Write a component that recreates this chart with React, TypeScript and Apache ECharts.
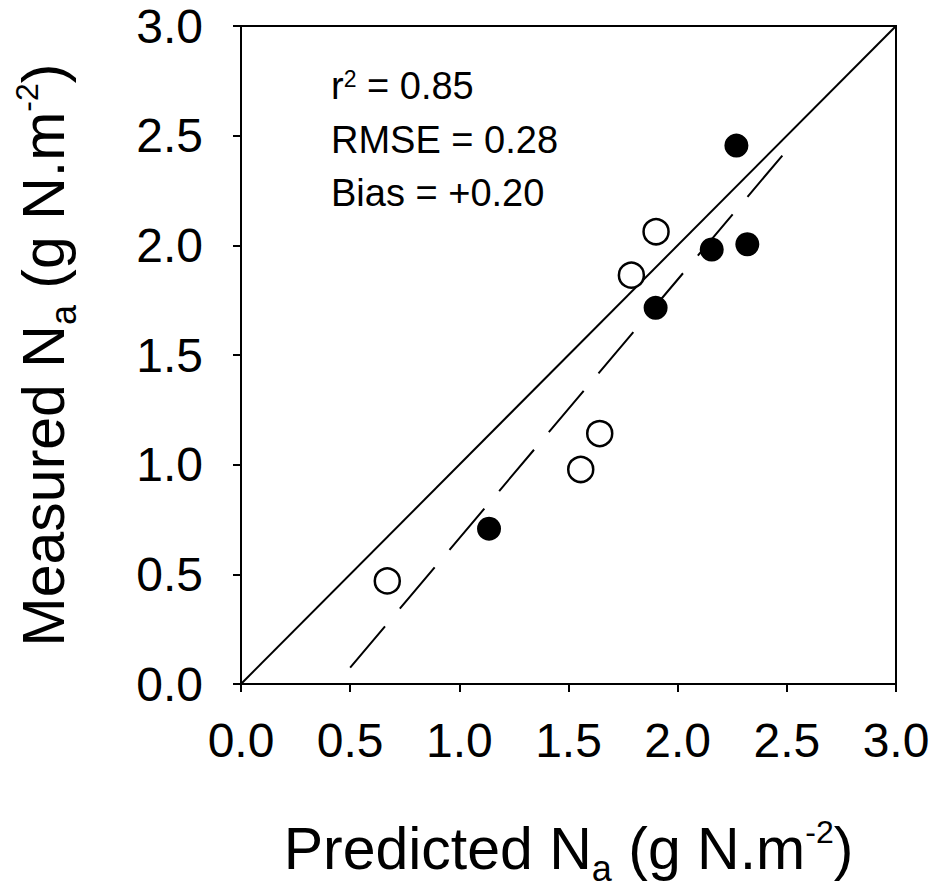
import React, { useEffect, useRef } from 'react';
import * as echarts from 'echarts';

// Reference data
const openPoints: [number, number][] = [
  [0.67, 0.47],
  [1.556, 0.978],
  [1.643, 1.142],
  [1.788, 1.864],
  [1.901, 2.062],
];
const filledPoints: [number, number][] = [
  [1.136, 0.708],
  [1.899, 1.715],
  [2.156, 1.981],
  [2.319, 2.005],
  [2.269, 2.455],
];
const oneToOneLine: [number, number][] = [
  [0, 0],
  [3, 3],
];
const regressionLine: [number, number][] = [
  [0.5, 0.075],
  [2.48, 2.41],
];
const axisMin = 0;
const axisMax = 3;
const axisInterval = 0.5;
const statR2 = '0.85';
const statRMSE = '0.28';
const statBias = '+0.20';

const FONT = '"Liberation Sans", Arial, Helvetica, sans-serif';

const titleRich = {
  m: { fontSize: 59, fontFamily: FONT, color: '#000', lineHeight: 74, verticalAlign: 'middle' },
  sub: { fontSize: 36, fontFamily: FONT, color: '#000', verticalAlign: 'bottom' },
  sup: { fontSize: 32, fontFamily: FONT, color: '#000', verticalAlign: 'top', padding: [4, 0, 0, 0] },
};

export default function App() {
  const ref = useRef<HTMLDivElement>(null);
  useEffect(() => {
    if (!ref.current) return;
    const chart = echarts.init(ref.current, undefined, { renderer: 'svg' });
    const axisCommon = {
      type: 'value',
      min: axisMin,
      max: axisMax,
      interval: axisInterval,
      nameLocation: 'middle',
      axisLine: { show: true, onZero: false, lineStyle: { color: '#000', width: 2 } },
      axisTick: { show: true, inside: false, length: 8, lineStyle: { color: '#000', width: 2 } },
      splitLine: { show: false },
      axisLabel: {
        color: '#000',
        fontSize: 48,
        fontFamily: FONT,
        formatter: (v: number) => v.toFixed(1),
      },
    };
    chart.setOption({
      animation: false,
      backgroundColor: '#fff',
      grid: {
        left: 241,
        top: 26,
        right: 34,
        bottom: 207,
        containLabel: false,
        outerBoundsMode: 'none',
        show: true,
        borderColor: '#000',
        borderWidth: 2,
        backgroundColor: 'transparent',
      },
      xAxis: {
        ...axisCommon,
        name: '{m|Predicted N}{sub|a}{m| (g N.m}{sup|-2}{m|)}',
        nameGap: 128,
        nameTextStyle: { rich: titleRich },
        axisLabel: { ...axisCommon.axisLabel, margin: 32 },
      },
      yAxis: {
        ...axisCommon,
        name: '{m|Measured N}{sub|a}{m| (g N.m}{sup|-2}{m|)}',
        nameGap: 160,
        nameRotate: 90,
        nameTextStyle: { rich: titleRich },
        axisLabel: { ...axisCommon.axisLabel, margin: 38 },
      },
      graphic: [
        {
          type: 'text',
          left: 331,
          top: 67,
          style: {
            text: '{a|r}{s|2}{a| = ' + statR2 + '}',
            rich: {
              a: { fontSize: 38, fontFamily: FONT, color: '#000', lineHeight: 38, verticalAlign: 'middle' },
              s: { fontSize: 23, fontFamily: FONT, color: '#000', verticalAlign: 'top' },
            },
          },
        },
        {
          type: 'text',
          left: 331,
          top: 121,
          style: { text: 'RMSE = ' + statRMSE, fontSize: 38, fontFamily: FONT, fill: '#000' },
        },
        {
          type: 'text',
          left: 331,
          top: 174,
          style: { text: 'Bias = ' + statBias, fontSize: 38, fontFamily: FONT, fill: '#000' },
        },
      ],
      series: [
        {
          type: 'line',
          data: oneToOneLine,
          symbol: 'none',
          lineStyle: { color: '#000', width: 2 },
          silent: true,
          z: 1,
        },
        {
          type: 'line',
          data: regressionLine,
          symbol: 'none',
          lineStyle: { color: '#000', width: 2, type: [54, 23] },
          silent: true,
          z: 1,
        },
        {
          type: 'scatter',
          data: openPoints,
          symbol: 'circle',
          symbolSize: 25,
          itemStyle: { color: '#fff', borderColor: '#000', borderWidth: 2.5, opacity: 1 },
          z: 3,
        },
        {
          type: 'scatter',
          data: filledPoints,
          symbol: 'circle',
          symbolSize: 24,
          itemStyle: { color: '#000', opacity: 1 },
          z: 3,
        },
      ],
    });
    return () => chart.dispose();
  }, []);
  return (
    <div
      ref={ref}
      style={{ position: 'fixed', left: 0, top: 0, width: 930, height: 891, background: '#fff' }}
    />
  );
}
